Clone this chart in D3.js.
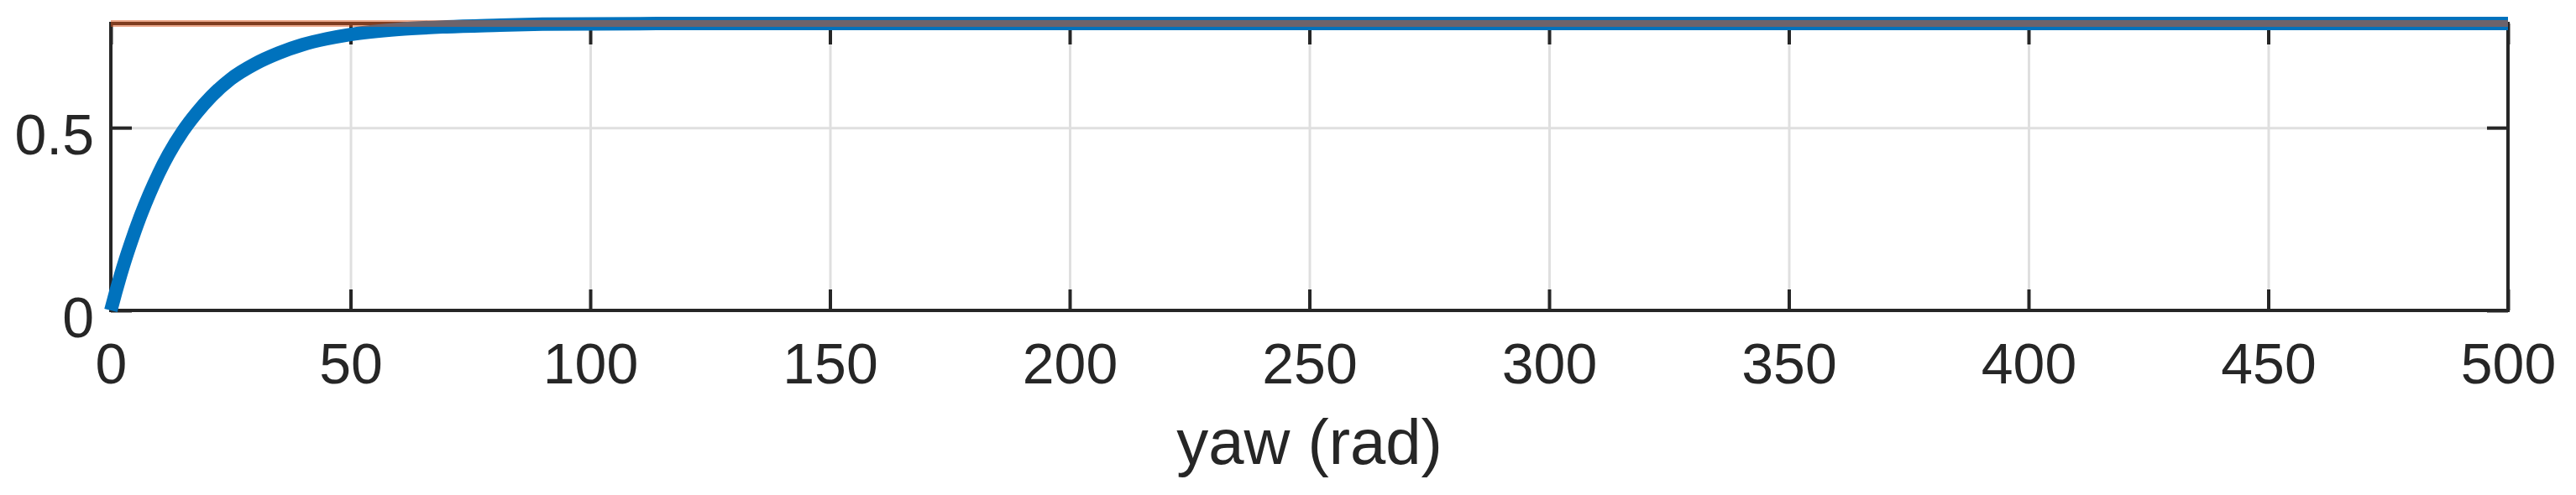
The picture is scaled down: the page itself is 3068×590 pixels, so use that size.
<!DOCTYPE html>
<html>
<head>
<meta charset="utf-8">
<script src="https://cdn.jsdelivr.net/npm/d3@7"></script>
<style>
  html, body { margin: 0; padding: 0; background: #fff; }
  svg { display: block; }
  text { font-family: "Liberation Sans", Arial, Helvetica, sans-serif; fill: #262626; }
</style>
</head>
<body>
<svg id="chart" width="3068" height="590"></svg>
<script>
// ---- data ----
const yawTime = [0, 1, 2, 3, 4, 5, 6, 8, 10, 12, 15, 18, 21, 25, 30, 35, 40, 45, 50, 60, 70, 80, 90, 100, 120, 150, 200, 300, 400, 500];
const yawValue = [0, 0.049, 0.095, 0.138, 0.178, 0.216, 0.252, 0.317, 0.375, 0.426, 0.490, 0.542, 0.586, 0.633, 0.674, 0.704, 0.727, 0.743, 0.755, 0.769, 0.776, 0.780, 0.783, 0.784, 0.785, 0.785, 0.785, 0.785, 0.785, 0.785];
const refTime = [0, 500];
const refValue = [0.785, 0.785];
const xTicks = [0, 50, 100, 150, 200, 250, 300, 350, 400, 450, 500];
const yTicks = [0, 0.5];
const yTickLabels = ["0", "0.5"];
const xLabel = "yaw (rad)";
const xDomain = [0, 500];
const yDomain = [0, 0.785];

// ---- layout ----
const L = 132, R = 2987, T = 28, B = 370;
const svg = d3.select("#chart");
const x = d3.scaleLinear().domain(xDomain).range([L, R]);
const y = d3.scaleLinear().domain(yDomain).range([B, T]);
const axisColor = "#262626";
const tickLen = 25;

// grid
const gridX = svg.append("g").attr("transform", `translate(0,${B})`)
  .call(d3.axisBottom(x).tickValues(xTicks.filter(v => v > xDomain[0] && v < xDomain[1])).tickSize(-(B - T)).tickFormat(""));
gridX.select(".domain").remove();
gridX.selectAll("line").attr("stroke", "#dfdfdf").attr("stroke-width", 3);
const gridY = svg.append("g").attr("transform", `translate(${L},0)`)
  .call(d3.axisLeft(y).tickValues(yTicks.filter(v => v > yDomain[0])).tickSize(-(R - L)).tickFormat(""));
gridY.select(".domain").remove();
gridY.selectAll("line").attr("stroke", "#dfdfdf").attr("stroke-width", 3);

// axes with inward ticks
function styleAxis(g) {
  g.select(".domain").remove();
  g.selectAll("line").attr("stroke", axisColor).attr("stroke-width", 4);
  g.selectAll("text").style("font-size", "68px").attr("fill", axisColor);
}
const bottomAx = svg.append("g").attr("transform", `translate(0,${B})`)
  .call(d3.axisBottom(x).tickValues(xTicks).tickSize(-tickLen).tickFormat(d3.format("d")));
styleAxis(bottomAx);
bottomAx.selectAll("text").attr("y", 87).attr("dy", 0);

const topAx = svg.append("g").attr("transform", `translate(0,${T})`)
  .call(d3.axisTop(x).tickValues(xTicks).tickSize(-tickLen).tickFormat(""));
styleAxis(topAx);

const leftAx = svg.append("g").attr("transform", `translate(${L},0)`)
  .call(d3.axisLeft(y).tickValues(yTicks).tickSize(-tickLen).tickFormat((d, i) => yTickLabels[i]));
styleAxis(leftAx);
leftAx.selectAll("text").attr("x", -20).attr("dy", 31).attr("text-anchor", "end");

const rightAx = svg.append("g").attr("transform", `translate(${R},0)`)
  .call(d3.axisRight(y).tickValues(yTicks).tickSize(-tickLen).tickFormat(""));
styleAxis(rightAx);

// box
svg.append("rect").attr("x", L).attr("y", T).attr("width", R - L).attr("height", B - T)
  .attr("fill", "none").attr("stroke", axisColor).attr("stroke-width", 4);

// x label
svg.append("text").attr("x", (L + R) / 2).attr("y", 553).attr("text-anchor", "middle")
  .style("font-size", "76px").text(xLabel);

// blue response line
const line = d3.line().x(d => x(d[0])).y(d => y(d[1])).curve(d3.curveMonotoneX);
svg.append("path").datum(yawTime.map((t, i) => [t, yawValue[i]]))
  .attr("d", line).attr("fill", "none").attr("stroke", "#0072BD")
  .attr("stroke-width", 16).attr("stroke-linejoin", "round");

// reference line (semi-transparent red)
svg.append("path").datum(refTime.map((t, i) => [t, refValue[i]]))
  .attr("d", d3.line().x(d => x(d[0])).y(d => y(d[1])))
  .attr("fill", "none").attr("stroke", "#D95319").attr("stroke-opacity", 0.5)
  .attr("stroke-width", 8);
</script>
</body>
</html>
